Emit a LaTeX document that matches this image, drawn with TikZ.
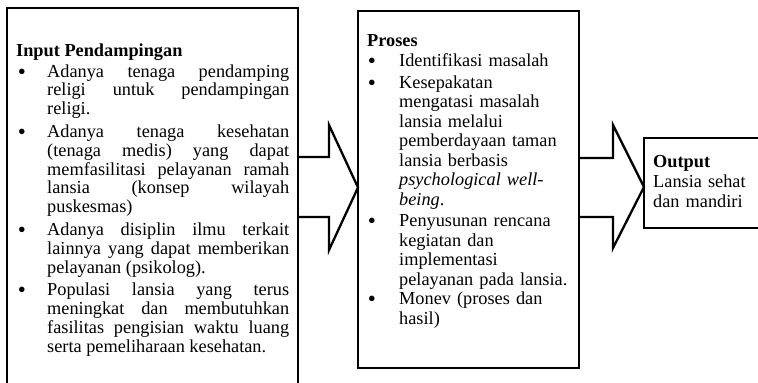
\documentclass[tikz,border=0pt]{standalone}
\usepackage{fontspec}
\setmainfont{Liberation Serif}
\hbadness=10000\relax
\tolerance=10000\relax
\hyphenpenalty=10000\relax
\exhyphenpenalty=10000\relax
\newcommand{\bulmark}{\smash{\textbullet}}
\begin{document}
\begin{tikzpicture}[x=1pt,y=-1pt,
  boxstyle/.style={draw, line width=2.3pt, rectangle, inner sep=0pt, outer sep=0pt},
  blockarrow/.style={draw, line width=2.3pt, line join=miter},
  bul/.style={inner sep=0pt, anchor=base, font=\fontsize{23}{23}\selectfont},
  headtxt/.style={inner sep=0pt, anchor=base west, font=\fontsize{18.3}{18.8}\selectfont\bfseries},
  leftitem/.style={inner sep=0pt, anchor=base west, text width=242pt, align=justify,
     font=\fontsize{18.3}{18.8}\selectfont},
  procitem/.style={inner sep=0pt, anchor=base west, text width=178pt, align=left,
     font=\fontsize{18.3}{19.5}\selectfont},
  outtxt/.style={inner sep=0pt, anchor=base west, text width=100pt, align=left,
     font=\fontsize{18.3}{20.3}\selectfont}
]
\useasboundingbox (0,0) rectangle (758,383);
\clip (0,0) rectangle (758,383);

% boxes
\node[boxstyle, minimum width=291pt, minimum height=402pt] (inbox) at (152.5,209) {};
\node[boxstyle, minimum width=221pt, minimum height=357pt] (procbox) at (468.5,189.5) {};
\node[boxstyle, minimum width=156pt, minimum height=90pt] (outbox) at (722,183) {};

% block arrows
\draw[blockarrow] (inbox.east |- 0,157) -- (329,157) -- (329,125)
   -- (procbox.west |- 0,187.5) -- (329,250) -- (329,217) -- (inbox.east |- 0,217);
\draw[blockarrow] (procbox.east |- 0,158) -- (613,158) -- (613,125)
   -- (outbox.west |- 0,187) -- (613,248) -- (613,217) -- (procbox.east |- 0,217);

% input text
\node[headtxt] (inhead) at (16,56) {Input Pendampingan};
\node[bul] (b1) at (22,79) {\bulmark};
\node[leftitem] (i1) at (47,77) {Adanya tenaga pendamping\linebreak religi untuk pendampingan\linebreak religi.};
\node[bul] (b2) at (22,139.4) {\bulmark};
\node[leftitem] (i2) at (47,137.4) {Adanya tenaga kesehatan\linebreak (tenaga medis) yang dapat\linebreak memfasilitasi pelayanan ramah\linebreak lansia (konsep wilayah\linebreak puskesmas)};
\node[bul] (b3) at (22,237.4) {\bulmark};
\node[leftitem] (i3) at (47,235.4) {Adanya disiplin ilmu terkait\linebreak lainnya yang dapat memberikan\linebreak pelayanan (psikolog).};
\node[bul] (b4) at (22,297.8) {\bulmark};
\node[leftitem] (i4) at (47,295.8) {Populasi lansia yang terus\linebreak meningkat dan membutuhkan\linebreak fasilitas pengisian waktu luang\linebreak serta pemeliharaan kesehatan.};

% proses text
\node[headtxt] (prhead) at (367,46) {Proses};
\node[bul] (pb1) at (372,68) {\bulmark};
\node[procitem] (p1) at (399,66) {Identifikasi masalah};
\node[bul] (pb2) at (372,90) {\bulmark};
\node[procitem] (p2) at (399,88) {Kesepakatan\\ mengatasi masalah\\ lansia melalui\\ pemberdayaan taman\\ lansia berbasis\\ \textit{psychological well-}\\ \textit{being}.};
\node[bul] (pb3) at (372,228.5) {\bulmark};
\node[procitem] (p3) at (399,226.5) {Penyusunan rencana\\ kegiatan dan\\ implementasi\\ pelayanan pada lansia.};
\node[bul] (pb4) at (372,306.5) {\bulmark};
\node[procitem] (p4) at (399,304.5) {Monev (proses dan\\ hasil)};

% output text
\node[outtxt] (outt) at (653,167) {\textbf{Output}\\ Lansia sehat\\ dan mandiri};
\end{tikzpicture}
\end{document}
